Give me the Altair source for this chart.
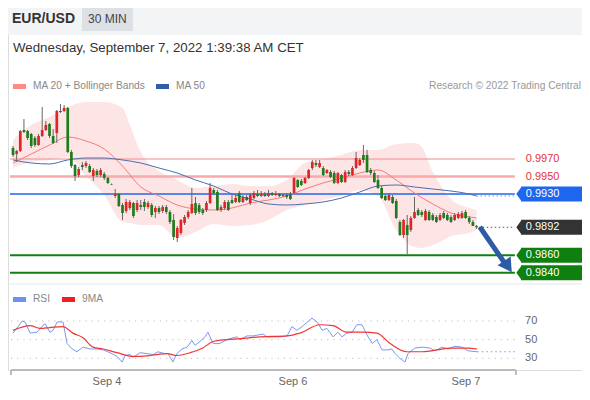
import altair as alt
import pandas as pd

# ---------------- data ----------------
candle_open = [0.99826,0.99757,0.99791,1.00031,1.00020,0.99986,0.99940,0.99860,0.99963,1.00031,
               1.00100,0.99963,0.99997,1.00249,1.00249,1.00283,0.99780,0.99631,0.99517,0.99631,
               0.99620,0.99620,0.99506,0.99563,0.99517,0.99529,0.99483,0.99414,0.99277,0.99300,
               0.99174,0.99106,0.99140,0.99197,0.99117,0.99174,0.99209,0.99151,0.99174,0.99094,
               0.99140,0.99106,0.99151,0.99094,0.99003,0.98797,0.98854,0.98969,0.99037,0.99083,
               0.99197,0.99174,0.99117,0.99117,0.99197,0.99346,0.99323,0.99117,0.99140,0.99209,
               0.99231,0.99209,0.99311,0.99209,0.99266,0.99197,0.99254,0.99300,0.99277,0.99300,
               0.99277,0.99311,0.99289,0.99300,0.99277,0.99289,0.99300,0.99311,0.99460,0.99449,
               0.99426,0.99483,0.99597,0.99654,0.99609,0.99597,0.99540,0.99551,0.99540,0.99426,
               0.99517,0.99437,0.99551,0.99517,0.99597,0.99631,0.99746,0.99746,0.99574,0.99540,
               0.99460,0.99369,0.99277,0.99231,0.99266,0.99220,0.98980,0.98831,0.98946,0.98889,
               0.99026,0.99117,0.99094,0.99003,0.99094,0.99060,0.99037,0.99003,0.99083,0.99060,
               0.99037,0.99003,0.99026,0.99026,0.99094,0.99026,0.98980,0.98934]
candle_high = [0.99849,0.99803,1.00031,1.00157,1.00031,0.99997,0.99963,0.99986,1.00294,1.00134,
               1.00111,1.00043,1.00260,1.00329,1.00317,1.00294,0.99803,0.99643,0.99609,0.99666,
               0.99677,0.99643,0.99597,0.99586,0.99597,0.99551,0.99494,0.99420,0.99357,0.99311,
               0.99197,0.99243,0.99231,0.99209,0.99231,0.99231,0.99243,0.99220,0.99197,0.99163,
               0.99163,0.99174,0.99174,0.99117,0.99071,0.98934,0.99014,0.99060,0.99117,0.99369,
               0.99266,0.99197,0.99140,0.99220,0.99426,0.99369,0.99346,0.99174,0.99231,0.99231,
               0.99289,0.99289,0.99334,0.99289,0.99289,0.99311,0.99334,0.99346,0.99334,0.99323,
               0.99346,0.99323,0.99334,0.99311,0.99300,0.99311,0.99323,0.99494,0.99471,0.99471,
               0.99494,0.99586,0.99689,0.99689,0.99689,0.99620,0.99586,0.99574,0.99563,0.99551,
               0.99529,0.99574,0.99574,0.99620,0.99780,0.99711,0.99860,0.99803,0.99597,0.99563,
               0.99517,0.99391,0.99300,0.99311,0.99289,0.99243,0.99003,0.99014,0.99060,0.99049,
               0.99266,0.99140,0.99117,0.99129,0.99117,0.99083,0.99060,0.99083,0.99106,0.99083,
               0.99060,0.99083,0.99094,0.99106,0.99117,0.99049,0.99003,0.98946]
candle_low = [0.99723,0.99666,0.99780,0.99997,0.99917,0.99826,0.99837,0.99849,0.99951,1.00020,
              0.99940,0.99871,0.99883,1.00226,1.00237,0.99769,0.99597,0.99449,0.99494,0.99574,
              0.99597,0.99540,0.99449,0.99494,0.99494,0.99460,0.99414,0.99403,0.99254,0.99151,
              0.99003,0.99083,0.99117,0.99026,0.99094,0.99117,0.99106,0.99129,0.99037,0.99026,
              0.99071,0.99083,0.99071,0.98957,0.98774,0.98751,0.98831,0.98946,0.99014,0.99071,
              0.99060,0.99071,0.99060,0.99094,0.99186,0.99289,0.99106,0.99094,0.99117,0.99106,
              0.99186,0.99197,0.99197,0.99197,0.99220,0.99174,0.99243,0.99266,0.99266,0.99266,
              0.99266,0.99277,0.99277,0.99266,0.99266,0.99243,0.99231,0.99300,0.99369,0.99391,
              0.99414,0.99471,0.99574,0.99609,0.99597,0.99506,0.99529,0.99483,0.99414,0.99414,
              0.99426,0.99426,0.99506,0.99506,0.99586,0.99620,0.99654,0.99540,0.99517,0.99426,
              0.99357,0.99243,0.99220,0.99220,0.99186,0.99014,0.98820,0.98797,0.98614,0.98866,
              0.99014,0.99049,0.99037,0.98991,0.98991,0.98991,0.98969,0.98991,0.99014,0.98991,
              0.98969,0.98991,0.99014,0.99014,0.99014,0.98957,0.98934,0.98900]
candle_close = [0.99746,0.99791,1.00020,1.00009,0.99940,0.99849,0.99860,0.99963,1.00031,1.00089,
                0.99963,0.99883,1.00249,1.00237,1.00283,0.99780,0.99620,0.99506,0.99586,0.99609,
                0.99654,0.99551,0.99574,0.99517,0.99574,0.99483,0.99426,0.99409,0.99300,0.99163,
                0.99083,0.99209,0.99209,0.99049,0.99197,0.99151,0.99151,0.99197,0.99060,0.99140,
                0.99094,0.99151,0.99094,0.98980,0.98809,0.98911,0.99003,0.99037,0.99094,0.99186,
                0.99083,0.99094,0.99083,0.99197,0.99369,0.99311,0.99117,0.99151,0.99209,0.99117,
                0.99197,0.99254,0.99209,0.99266,0.99231,0.99289,0.99311,0.99277,0.99300,0.99277,
                0.99311,0.99289,0.99300,0.99277,0.99289,0.99266,0.99243,0.99483,0.99380,0.99403,
                0.99483,0.99574,0.99666,0.99631,0.99654,0.99517,0.99574,0.99494,0.99426,0.99540,
                0.99437,0.99551,0.99529,0.99597,0.99711,0.99689,0.99689,0.99551,0.99540,0.99437,
                0.99369,0.99254,0.99231,0.99289,0.99197,0.99026,0.98831,0.99003,0.98831,0.99026,
                0.99094,0.99060,0.99060,0.99106,0.99003,0.99003,0.98980,0.99060,0.99026,0.99003,
                0.98980,0.99060,0.99071,0.99083,0.99026,0.98980,0.98934,0.98920]

ma_idx = [0,5,10,15,20,25,30,35,40,45,50,55,60,65,70,75,80,85,90,95,100,105,110,115,120,125,127]
ma20 = [0.99654,0.99757,0.99860,0.99951,0.99906,0.99814,0.99620,0.99380,0.99277,0.99174,
        0.99129,0.99117,0.99140,0.99197,0.99231,0.99277,0.99357,0.99426,0.99483,0.99540,
        0.99574,0.99460,0.99311,0.99186,0.99083,0.99037,0.99026]
ma50 = [0.99689,0.99654,0.99643,0.99689,0.99711,0.99711,0.99689,0.99654,0.99597,0.99540,
        0.99460,0.99391,0.99300,0.99243,0.99186,0.99174,0.99186,0.99209,0.99254,0.99323,
        0.99391,0.99403,0.99380,0.99357,0.99334,0.99300,0.99277]

band_idx = [0,5,10,15,20,25,30,32,35,40,45,50,55,60,65,70,75,80,85,90,95,100,105,110,112,115,118,120,125,127]
band_up = [0.99917,1.00089,1.00180,1.00294,1.00351,1.00351,1.00283,1.00089,0.99780,0.99563,
           0.99460,0.99369,0.99391,0.99414,0.99391,0.99391,0.99460,0.99654,0.99700,0.99746,
           0.99803,0.99803,0.99871,0.99883,0.99837,0.99551,0.99346,0.99243,0.99140,0.99117]
band_lo = [0.99597,0.99666,0.99689,0.99723,0.99506,0.99289,0.98980,0.98969,0.98946,0.98946,
           0.98797,0.98866,0.98957,0.98934,0.98946,0.99003,0.99117,0.99174,0.99231,0.99277,
           0.99346,0.99277,0.98889,0.98694,0.98683,0.98717,0.98774,0.98820,0.98854,0.98889]

rsi_idx = [0,1.4,2.5,3.3,4.7,6.6,7.9,8.8,10.1,11,12.1,13.7,14.8,16.2,17.5,19.2,21.1,23,24.7,26.6,
           28.5,29.9,30.7,32.1,32.9,34.8,36.7,38.4,39.7,41.6,42.5,43.8,44.9,46.3,47.7,49,49.9,51.2,
           52.6,53.4,54.8,56.7,58.6,60.3,61.4,62.2,64.1,65.8,67.1,68.5,69.6,71.2,73.2,75.1,76.4,
           77.8,79.5,81.9,83.3,84.7,86,87.7,89,90.1,91.5,92.9,94.2,95.6,97,98.4,99.7,101.1,102.5,
           103.8,104.7,106,107.4,108.2,110.1,112.3,114.2,115.6,117.5,119.2,121.1,123,124.7,127.2]
rsi_val = [57,64,70,69,57,58,64,67,58,60,69,69,46,40,37,42,40,40,39,36,
           32,26,33,34,31,36,35,34,37,35,35,26,35,40,42,49,44,48,
           53,58,46,46,50,52,53,50,54,54,55,56,53,53,53,54,64,
           60,65,73,69,60,62,53,58,53,57,58,66,66,55,46,50,39,39,
           40,35,30,26,35,41,42,41,38,42,40,43,42,38,37]
rsi_ma_idx = [0,4.7,7.4,10.1,13.7,16.4,19.2,21.9,24.7,28.5,32.9,37.5,42.2,44.9,48.5,52,54.8,58.6,
              62.2,67.7,75.1,78.6,84.1,87.7,91.5,95.9,99.7,103.3,107.9,112.3,116.2,119.7,124.4,127.2]
rsi_ma_val = [60,65,62,63,64,57,52,42,40,36,32,33,35,33,36,41,48,50,
              51,53,54,57,66,65,58,58,57,46,37,37,39,41,41,40]
rsi_last = 37
rsi_levels = [70, 50, 30]

levels = [0.9970, 0.9950, 0.9930, 0.9892, 0.9860, 0.9840]
ma50_last = 0.99277

tick_pos = [25.75, 76.7, 124.1]
tick_labels = ["Sep 4", "Sep 6", "Sep 7"]

arrow_idx = [127.9, 134.5]
arrow_price = [0.98923, 0.98523]
arrow_head = (135.6, 0.98471)

# ---------------- styles / geometry ----------------
W, H = 574, 362
L_IDX, R_IDX = -0.82, 137.5
RED, GREEN = "#e12424", "#1e7b1e"
FONT = "Liberation Sans"

xs = alt.Scale(domain=[0, 127], range=[5, 468.55], nice=False, zero=False, padding=0)
ps = dict(domain=[0.984, 0.997], range=[264.75, 151], nice=False, zero=False, padding=0)
rs = dict(domain=[30, 70], range=[350.3, 313], nice=False, zero=False, padding=0)


def X(f):
    return alt.X(f, type="quantitative", scale=xs, axis=None)


def YP(f):
    return alt.Y(f, type="quantitative", scale=alt.Scale(**ps), axis=None)


def YR(f):
    return alt.Y(f, type="quantitative", scale=alt.Scale(**rs), axis=None)


def one(**kw):
    return alt.Chart(pd.DataFrame({k: [v] for k, v in kw.items()}))


def txt(s, x, y, size=11, color="#888", weight="normal", align="left"):
    return one(t=s).mark_text(align=align, baseline="middle", fontSize=size, color=color,
                              fontWeight=weight, font=FONT).encode(
        x=alt.value(x), y=alt.value(y), text="t:N")


def box(x, x2, y, y2, color):
    return one(a=0).mark_rect(color=color).encode(
        x=alt.value(x), x2=alt.value(x2), y=alt.value(y), y2=alt.value(y2))


layers = []

# header & decorations
layers.append(box(0, W, 0, 27, "#f3f4f6"))
layers.append(box(74, 125, 0, 23, "#dde0e4"))
layers.append(txt("EUR/USD", 4, 11, 14, "#333", "bold"))
layers.append(txt("30 MIN", 80, 11, 12, "#444"))
layers.append(txt("Wednesday, September 7, 2022 1:39:38 AM CET", 5, 40, 13.3, "#333"))
layers.append(box(5, 18, 76, 81, "#ff8a8a"))
layers.append(txt("MA 20 + Bollinger Bands", 25, 78, 10.2, "#888"))
layers.append(box(148, 161, 76, 81, "#2f5da6"))
layers.append(txt("MA 50", 168, 78, 10.2, "#888"))
layers.append(txt("Research \u00a9 2022 Trading Central", 573, 78, 10.2, "#999", align="right"))
layers.append(one(a=0).mark_rule(color="#e6e8eb", strokeWidth=1).encode(
    x=alt.value(0), x2=alt.value(W), y=alt.value(276)))
layers.append(box(5, 18, 289, 294, "#6f90ee"))
layers.append(txt("RSI", 25, 291, 10.2, "#888"))
layers.append(box(54, 67, 289, 294, "#f02020"))
layers.append(txt("9MA", 74, 291, 10.2, "#888"))

# Bollinger band
band_df = pd.DataFrame({"i": band_idx, "up": band_up, "lo": band_lo})
layers.append(alt.Chart(band_df).mark_area(color="#fde5e5", interpolate="monotone").encode(
    x=X("i"), y=YP("up"), y2=alt.Y2("lo")))

# horizontal levels
lvl_style = {
    0.9970: dict(color="#ee8a8a", strokeWidth=1),
    0.9950: dict(color="#f8a9a9", strokeWidth=2.5),
    0.9930: dict(color="#1f66ee", strokeWidth=1.5),
    0.9860: dict(color="#0f7f0f", strokeWidth=2),
    0.9840: dict(color="#0f7f0f", strokeWidth=2),
}
for lv in levels:
    if lv in lvl_style:
        layers.append(one(v=lv, a=L_IDX, b=R_IDX).mark_rule(**lvl_style[lv]).encode(
            x=X("a"), x2=alt.X2("b"), y=YP("v")))

# moving averages
ma_df = pd.DataFrame({"i": ma_idx, "ma20": ma20, "ma50": ma50})
layers.append(alt.Chart(ma_df).mark_line(color="#f37b7b", strokeWidth=1, interpolate="monotone").encode(
    x=X("i"), y=YP("ma20")))
layers.append(alt.Chart(ma_df).mark_line(color="#4a6db2", strokeWidth=1, interpolate="monotone").encode(
    x=X("i"), y=YP("ma50")))

# dotted continuations
layers.append(one(v=ma50_last, a=127, b=R_IDX).mark_rule(color="#7d93c4", strokeWidth=1, strokeDash=[1.5, 2.5]).encode(
    x=X("a"), x2=alt.X2("b"), y=YP("v")))
layers.append(one(v=candle_close[-1], a=127.6, b=R_IDX).mark_rule(color="#555", strokeWidth=1, strokeDash=[1.5, 2.5]).encode(
    x=X("a"), x2=alt.X2("b"), y=YP("v")))

# candles
n = len(candle_open)
cdf = pd.DataFrame({"i": list(range(n)), "o": candle_open, "h": candle_high,
                    "l": candle_low, "c": candle_close})
cdf["dir"] = ["up" if c > o else "down" for o, c in zip(candle_open, candle_close)]
color_enc = alt.Color("dir:N", scale=alt.Scale(domain=["up", "down"], range=[RED, GREEN]), legend=None)
layers.append(alt.Chart(cdf).mark_rule(color="#666", strokeWidth=1).encode(
    x=X("i"), y=YP("h"), y2=alt.Y2("l")))
layers.append(alt.Chart(cdf).mark_bar(size=2.7).encode(
    x=X("i"), y=YP("o"), y2=alt.Y2("c"), color=color_enc))

# right side price labels
box_style = {0.9930: "#1f66ee", 0.9892: "#333333", 0.9860: "#0f7f0f", 0.9840: "#0f7f0f"}
for lv in levels:
    lab = f"{lv:.4f}"
    if lv in box_style:
        col = box_style[lv]
        layers.append(one(v=lv, a=139.2, b=160).mark_bar(orient="horizontal", size=15, color=col).encode(
            x=X("a"), x2=alt.X2("b"), y=YP("v")))
        layers.append(one(v=lv, a=137.9).mark_point(shape="M 0 0 L 0.72 -1 L 0.72 1 Z", size=225, filled=True,
                                                     opacity=1, color=col, strokeWidth=0).encode(
            x=X("a"), y=YP("v")))
        layers.append(one(v=lv, a=140.5, t=lab).mark_text(align="left", baseline="middle", fontSize=11,
                                                          color="white", font=FONT).encode(
            x=X("a"), y=YP("v"), text="t:N"))
    else:
        layers.append(one(v=lv, a=140.5, t=lab).mark_text(align="left", baseline="middle", fontSize=11,
                                                          color="#e53535", font=FONT).encode(
            x=X("a"), y=YP("v"), text="t:N"))

# forecast arrow
adf = pd.DataFrame({"i": arrow_idx, "p": arrow_price})
layers.append(alt.Chart(adf).mark_line(color="#2d5ca6", strokeWidth=5, strokeCap="butt").encode(
    x=X("i"), y=YP("p")))
layers.append(one(i=arrow_head[0], p=arrow_head[1]).mark_point(shape="triangle-up", size=250, angle=146,
                                                               filled=True, opacity=1, color="#2d5ca6").encode(
    x=X("i"), y=YP("p")))

# RSI panel
for lv in rsi_levels:
    layers.append(one(v=lv, a=-0.55, b=R_IDX).mark_rule(color="#bdbdbd", strokeWidth=1, strokeDash=[1.2, 5]).encode(
        x=X("a"), x2=alt.X2("b"), y=YR("v")))
    layers.append(one(v=lv, a=140.3, t=str(lv)).mark_text(align="left", baseline="middle", fontSize=11,
                                                          color="#666", font=FONT).encode(
        x=X("a"), y=YR("v"), text="t:N"))
rdf = pd.DataFrame({"i": rsi_idx, "v": rsi_val})
layers.append(alt.Chart(rdf).mark_line(color="#7b9af0", strokeWidth=1).encode(x=X("i"), y=YR("v")))
mdf = pd.DataFrame({"i": rsi_ma_idx, "v": rsi_ma_val})
layers.append(alt.Chart(mdf).mark_line(color="#f23535", strokeWidth=1.2, interpolate="monotone").encode(
    x=X("i"), y=YR("v")))
layers.append(one(v=rsi_last, a=127.2, b=R_IDX).mark_rule(color="#7b9af0", strokeWidth=1.2, strokeDash=[1.5, 3]).encode(
    x=X("a"), x2=alt.X2("b"), y=YR("v")))

# bottom axis line with end ticks and date labels
layers.append(one(a=-0.55, b=137.8).mark_rule(color="#bbbbbb", strokeWidth=2).encode(
    x=X("a"), x2=alt.X2("b"), y=alt.value(H)))
for e in (-0.55, 137.8):
    layers.append(one(a=e).mark_rule(color="#bbbbbb", strokeWidth=2).encode(
        x=X("a"), y=alt.value(H), y2=alt.value(H + 5)))
tdf = pd.DataFrame({"i": tick_pos, "t": tick_labels})
layers.append(alt.Chart(tdf).mark_text(align="center", baseline="middle", fontSize=11, color="#666",
                                       font=FONT).encode(x=X("i"), y=alt.value(H + 12), text="t:N"))

chart = alt.layer(*layers).resolve_scale(y="independent").properties(
    width=W, height=H,
    autosize=alt.AutoSizeParams(type="none"),
    padding={"left": 0, "top": 0, "right": 0, "bottom": 22},
    background="white",
).configure_view(stroke=None).configure(font=FONT)

chart.save("out.html", embed_options={"renderer": "svg", "actions": False})
